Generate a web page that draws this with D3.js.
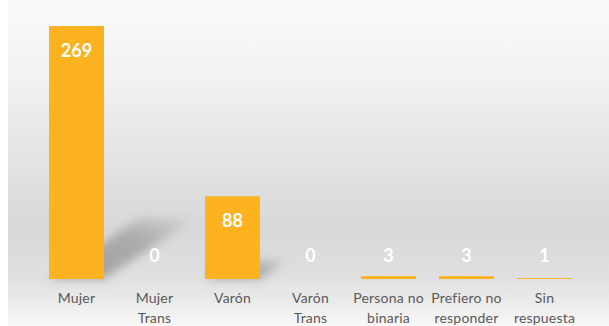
<!DOCTYPE html>
<html>
<head>
<meta charset="utf-8">
<script src="https://cdn.jsdelivr.net/npm/d3@7"></script>
<style>
  html, body { margin: 0; padding: 0; background: #ffffff; }
  svg { display: block; }
</style>
</head>
<body>
<svg id="chart" width="609" height="326"></svg>
<script>
// Respondents by gender identity
const categories = ["Mujer", "Mujer\nTrans", "Varón", "Varón\nTrans", "Persona no\nbinaria", "Prefiero no\nresponder", "Sin\nrespuesta"];
const counts = [269, 0, 88, 0, 3, 3, 1];

const W = 609, H = 326;
const svg = d3.select("#chart");
const defs = svg.append("defs");

// Panel background: light at the top, darker band near the bars, light again at the bottom
const bg = defs.append("linearGradient").attr("id", "bg").attr("x1", 0).attr("y1", 0).attr("x2", 0).attr("y2", 1);
[[0, "#fbfbfb"], [0.25, "#f1f1f1"], [0.5, "#e3e3e3"], [0.7, "#d8d8d8"], [0.85, "#e0e0e0"], [0.93, "#ececec"], [1, "#f8f8f8"]]
  .forEach(([o, c]) => bg.append("stop").attr("offset", o).attr("stop-color", c));
svg.append("rect").attr("x", 8).attr("y", 0).attr("width", W - 8).attr("height", H).attr("fill", "url(#bg)");

// Soft perspective shadow cast behind each bar
const blur = defs.append("filter").attr("id", "blur").attr("x", "-50%").attr("y", "-50%").attr("width", "200%").attr("height", "200%");
blur.append("feGaussianBlur").attr("stdDeviation", 5);
const sg = defs.append("linearGradient").attr("id", "shade").attr("gradientUnits", "objectBoundingBox")
  .attr("x1", 0).attr("y1", 1).attr("x2", 1).attr("y2", 0);
sg.append("stop").attr("offset", 0).attr("stop-color", "#000").attr("stop-opacity", 0.28);
sg.append("stop").attr("offset", 0.6).attr("stop-color", "#000").attr("stop-opacity", 0.22);
sg.append("stop").attr("offset", 1).attr("stop-color", "#000").attr("stop-opacity", 0.02);

const x = d3.scaleBand().domain(categories).range([37.5, 583.5]).paddingInner(0.295).paddingOuter(0.1475);
const y = d3.scaleLinear().domain([0, 269]).range([279, 26]);
const base = y(0);

const data = categories.map((c, i) => ({ c, v: counts[i] }));

svg.append("g").selectAll("path").data(data.filter(d => d.v > 0)).join("path")
  .attr("d", d => {
    const h = base - y(d.v);
    const dx = h * 0.36, dy = h * 0.24;
    const x0 = x(d.c), x1 = x0 + x.bandwidth();
    return `M${x0},${base} L${x1},${base} L${x1 + dx},${base - dy} L${x0 + dx},${base - dy} Z`;
  })
  .attr("fill", "url(#shade)")
  .attr("filter", "url(#blur)");

// Bars
svg.append("g").selectAll("rect").data(data).join("rect")
  .attr("x", d => x(d.c))
  .attr("y", d => y(d.v))
  .attr("width", x.bandwidth())
  .attr("height", d => base - y(d.v))
  .attr("fill", "#fdb320");

// Value labels inside the top of each bar (lifted for short bars)
svg.append("g").selectAll("text").data(data).join("text")
  .attr("x", d => x(d.c) + x.bandwidth() / 2)
  .attr("y", d => Math.min(y(d.v), base - 48) + 24)
  .attr("text-anchor", "middle")
  .attr("dominant-baseline", "central")
  .attr("font-family", "Lato, 'Open Sans', sans-serif")
  .attr("font-weight", "bold")
  .attr("font-size", 18)
  .attr("fill", "#ffffff")
  .text(d => d.v);

// Category axis
const axis = svg.append("g").attr("transform", `translate(0,${base})`)
  .call(d3.axisBottom(x).tickSize(0).tickPadding(0));
axis.select(".domain").remove();
axis.selectAll(".tick text")
  .attr("font-family", "Lato, 'Open Sans', sans-serif")
  .attr("font-size", 14)
  .attr("letter-spacing", 0.2)
  .attr("fill", "#595959")
  .attr("dy", null)
  .attr("y", 0)
  .each(function(d) {
    const t = d3.select(this).text("");
    d.split("\n").forEach((line, i) => {
      t.append("tspan").attr("x", 0).attr("y", 24 + i * 20).text(line);
    });
  });
</script>
</body>
</html>
